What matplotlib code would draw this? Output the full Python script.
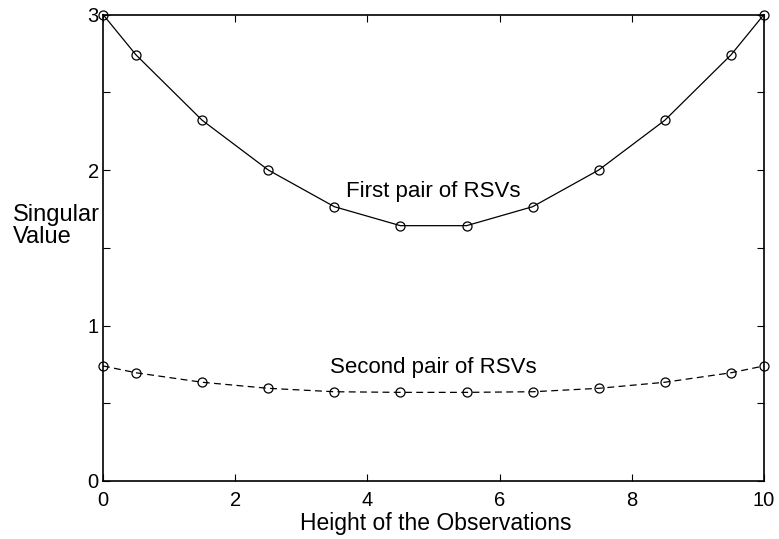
import matplotlib
matplotlib.use("Agg")
import matplotlib.pyplot as plt
from matplotlib.ticker import MultipleLocator

plt.rcParams['font.family'] = ['Liberation Sans', 'DejaVu Sans']

heights = [0, 0.5, 1.5, 2.5, 3.5, 4.5, 5.5, 6.5, 7.5, 8.5, 9.5, 10]
first_pair = [3.0, 2.74, 2.32, 2.0, 1.764, 1.642, 1.642, 1.764, 2.0, 2.32, 2.74, 3.0]
second_pair = [0.74, 0.696, 0.635, 0.596, 0.574, 0.570, 0.570, 0.574, 0.596, 0.635, 0.696, 0.74]
x_ticks = [0, 2, 4, 6, 8, 10]
y_ticks = [0, 1, 2, 3]

W, H = 779, 539
fig = plt.figure(figsize=(W/100, H/100), dpi=100)
ax = fig.add_axes([103/W, (H-481)/H, 661/W, 466.5/H])

ax.plot(heights, first_pair, color='black', lw=0.9, marker='o', ms=6.5,
        mfc='none', mec='black', mew=0.9, clip_on=False)
ax.plot(heights, second_pair, color='black', lw=0.9, ls=(0, (5.5, 3.5)), marker='o', ms=6.5,
        mfc='none', mec='black', mew=0.9, clip_on=False)

ax.set_xlim(0, 10)
ax.set_ylim(0, 3)
ax.set_xticks(x_ticks)
ax.set_yticks(y_ticks)
ax.yaxis.set_minor_locator(MultipleLocator(0.5))
ax.tick_params(which='both', direction='in', top=True, right=True, labelsize=14.5,
               width=0.8, length=5)
ax.tick_params(axis='x', pad=7.5)
ax.tick_params(axis='y', pad=3)
for s in ax.spines.values():
    s.set_linewidth(1.2)

ax.text(5, 1.826, 'First pair of RSVs', ha='center', va='baseline', fontsize=16)
ax.text(5, 0.695, 'Second pair of RSVs', ha='center', va='baseline', fontsize=16)

fig.text(436/W, (H-530)/H, 'Height of the Observations', ha='center', va='baseline',
         fontsize=16.5)
fig.text(13/W, 1 - 226/H, 'Singular\nValue', ha='left', va='center',
         fontsize=17, linespacing=1.0)

fig.savefig('out.png', dpi=100)
